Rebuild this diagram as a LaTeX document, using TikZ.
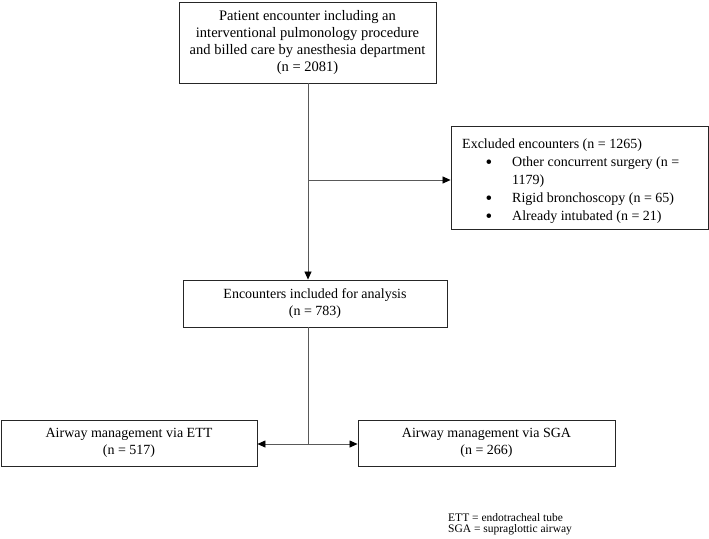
\documentclass[tikz,border=0pt]{standalone}
\usepackage{fontspec}
\setmainfont{Liberation Serif}
\usetikzlibrary{arrows.meta}
\begin{document}
\begin{tikzpicture}[x=1pt,y=-1pt,
  box/.style={draw=black!85, line width=0.9pt, inner sep=0pt, align=center,
    font=\fontsize{14}{17}\selectfont},
  txt/.style={anchor=base west, inner sep=0pt, font=\fontsize{14}{17}\selectfont},
  bul/.style={anchor=base, inner sep=0pt, font=\fontsize{19}{17}\selectfont},
  conn/.style={draw=black!65, line width=0.7pt},
  arr/.style={conn, -{Triangle[length=8pt,width=7pt,fill=black,color=black]}}]
\useasboundingbox (0,0) rectangle (709,538);
\fill[white] (0,0) rectangle (709,538);

\node[box, minimum width=257pt, minimum height=81pt,
  font=\fontsize{14.5}{17}\selectfont] (top) at (307.5,42.5)
  {Patient encounter including an\\interventional pulmonology procedure\\and billed care by anesthesia department\\(n = 2081)};

\node[box, minimum width=257pt, minimum height=103pt] (excl) at (579.5,177.5) {};
\node[txt] (exh) at (462,148.5) {Excluded encounters (n = 1265)};
\node[bul] (b1) at (489,168) {•};
\node[txt] (l1) at (512,166.5) {Other concurrent surgery (n =};
\node[txt] (l1b) at (512,184.5) {1179)};
\node[bul] (b2) at (489,204) {•};
\node[txt] (l2) at (512,202.5) {Rigid bronchoscopy (n = 65)};
\node[bul] (b3) at (489,222) {•};
\node[txt] (l3) at (512,220.5) {Already intubated (n = 21)};

\node[box, minimum width=264pt, minimum height=47pt] (incl) at (315,303.5)
  {Encounters included for analysis\\(n = 783)};

\node[box, minimum width=256pt, minimum height=46pt] (ett) at (129,443)
  {Airway management via ETT\\(n = 517)};
\node[box, minimum width=257pt, minimum height=46pt] (sga) at (486.5,443)
  {Airway management via SGA\\(n = 266)};

\coordinate (j1) at (308,180);
\coordinate (j2) at (308,444);
\draw[arr] (top.south -| j1) -- (incl.north -| j1);
\draw[arr] (j1) -- (excl.west |- j1);
\draw[conn] (incl.south -| j2) -- (j2);
\draw[arr] (j2) -- (ett.east |- j2);
\draw[arr] (j2) -- (sga.west |- j2);

\node[anchor=base west, inner sep=0pt, align=left,
  font=\fontsize{11.5}{11}\selectfont] (note) at (448,532)
  {ETT = endotracheal tube\\SGA = supraglottic airway};
\end{tikzpicture}
\end{document}
